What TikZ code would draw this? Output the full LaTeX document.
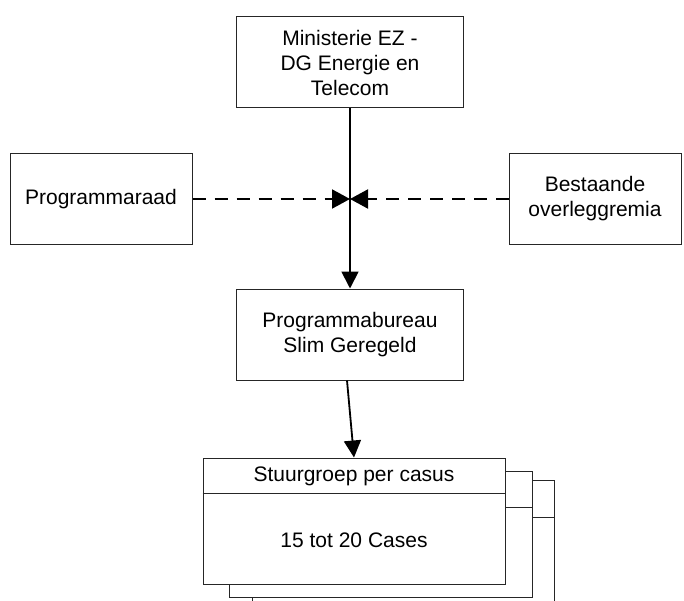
\documentclass[tikz,border=0pt]{standalone}
\usepackage{fontspec}
\setmainfont{Liberation Sans}
\usetikzlibrary{arrows.meta,calc}
\begin{document}
\begin{tikzpicture}[x=1pt,y=-1pt,
  box/.style={draw=black!85,line width=1pt,fill=white,inner sep=0pt,align=center,
    font=\fontsize{21}{25}\selectfont},
  conn/.style={line width=1.8pt,-{Triangle[length=17pt,width=17pt]}},
  dconn/.style={line width=2pt,dash pattern=on 13pt off 9pt,-{Triangle[length=18pt,width=19pt]}}]
\useasboundingbox (0,0) rectangle (684,601);
\clip (0,0) rectangle (684,601);
\node[box,minimum width=227pt,minimum height=91pt] (ez) at (350,62.5) {Ministerie EZ -\\DG Energie en\\Telecom};
\node[box,minimum width=182pt,minimum height=91pt] (pr) at (101,199) {Programmaraad};
\node[box,minimum width=172pt,minimum height=91pt] (bo) at (595,199) {Bestaande\\overleggremia};
\node[box,minimum width=227pt,minimum height=91pt] (pb) at (350,334.5) {Programmabureau\\Slim Geregeld};
% stacked case boxes
\draw[line width=1pt,draw=black!85,fill=white] (252,480) rectangle (554,612);
\draw[line width=1pt,draw=black!85] (252,517) -- (554,517);
\draw[line width=1pt,draw=black!85,fill=white] (229,471) rectangle (532,597);
\draw[line width=1pt,draw=black!85] (229,507) -- (532,507);
\node[box,minimum width=302pt,minimum height=126pt] (cs) at (354,521) {};
\draw[line width=1pt,draw=black!85] (cs.west |- 0,493) -- (cs.east |- 0,493);
\node[font=\fontsize{21}{25}\selectfont] (sg) at (354,476) {Stuurgroep per casus};
\node[font=\fontsize{21}{25}\selectfont] (tc) at (354,540) {15 tot 20 Cases};
% connectors
\coordinate (mid) at (ez.south |- pr.east);
\draw[conn] (ez.south) -- (pb.north);
\draw[dconn] (pr.east) -- (mid);
\draw[dconn] (bo.west) -- (mid);
\draw[conn] ($(pb.south)+(-3,0)$) -- (cs.north);
\end{tikzpicture}
\end{document}
